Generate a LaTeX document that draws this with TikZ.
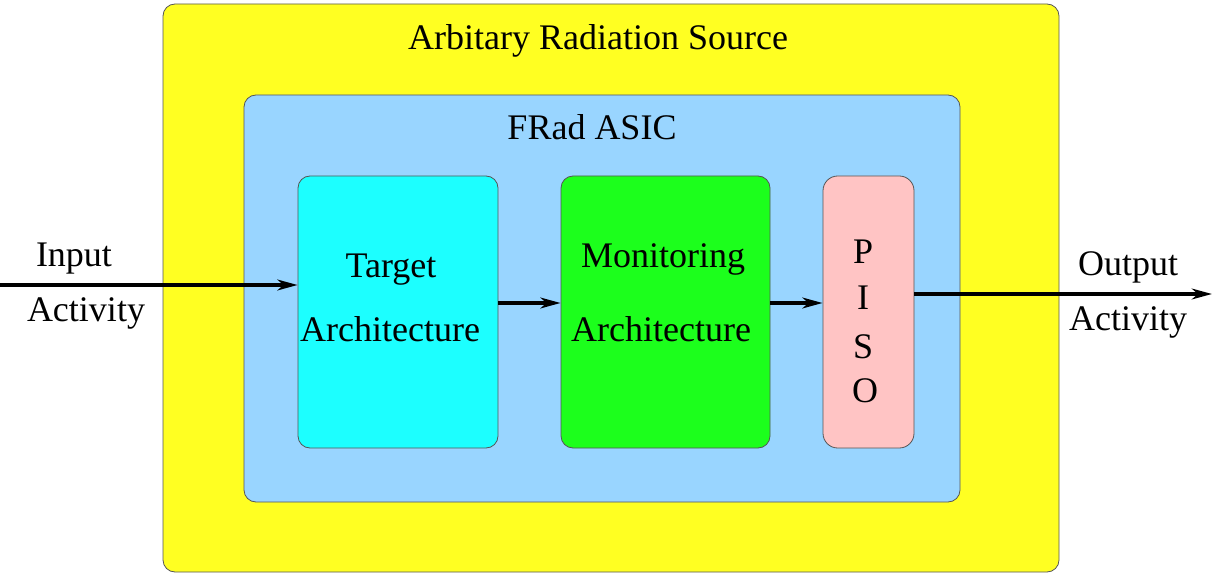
\documentclass[tikz,border=0pt]{standalone}
\usepackage{fontspec}
\setmainfont{Liberation Serif}
\usetikzlibrary{arrows.meta,positioning}
\definecolor{srcyellow}{HTML}{FFFF22}
\definecolor{asicblue}{HTML}{99D5FF}
\definecolor{targetcyan}{HTML}{1CFFFF}
\definecolor{monitorgreen}{HTML}{1CFF1C}
\definecolor{pisopink}{HTML}{FFC4C4}
\definecolor{edgegray}{HTML}{555555}

\tikzset{
  block/.style={draw=edgegray, line width=0.6pt, rounded corners=9pt, inner sep=0pt},
  lbl/.style={anchor=base, inner sep=0pt, font=\fontsize{27}{31}\selectfont},
  flow/.style={line width=3pt, -{Stealth[length=15pt, width=8pt, inset=4.5pt]}}
}

\begin{document}
\begin{tikzpicture}[x=0.75pt,y=0.75pt,yscale=-1,xscale=1]
\useasboundingbox (0,0) rectangle (1212,573);

%Blocks
\path (611,288) node [block, fill=srcyellow, minimum width=672pt, minimum height=426pt] (source) {};
\path (602,298.5) node [block, fill=asicblue, minimum width=537pt, minimum height=305.25pt] (asic) {};
\path (398,312) node [block, fill=targetcyan, minimum width=150pt, minimum height=204pt] (target) {};
\path (665.5,312) node [block, fill=monitorgreen, minimum width=156.75pt, minimum height=204pt] (monitor) {};
\path (868.5,312) node [block, fill=pisopink, minimum width=68.25pt, minimum height=204pt, rounded corners=11pt] (piso) {};

%Ends of the outer lines
\coordinate (in) at (0,285);
\coordinate (out) at (1212,294);

%Straight Lines
\draw [flow] (in) -- (target.west |- in);
\draw [flow] ([yshift=-6.75pt]target.east) -- ([yshift=-6.75pt]monitor.west);
\draw [flow] ([yshift=-6.75pt]monitor.east) -- ([yshift=-6.75pt]piso.west);
\draw [flow] (piso.east |- out) -- (out);

% Text Node
\draw (598,50) node [lbl] (srclbl) {Arbitary Radiation Source};
\draw (592,140) node [lbl] (asiclbl) {FRad ASIC};
% Text Node
\draw (391,277) node [lbl] (tgtlbl1) {Target};
\draw (390,341) node [lbl] (tgtlbl2) {Architecture};
% Text Node
\draw (663,268) node [lbl] (monlbl1) {Monitoring};
\draw (661,341) node [lbl] (monlbl2) {Architecture};
% Text Node
\draw (863,264) node [lbl] (pisop) {P};
\draw (863,310) node [lbl] (pisoi) {I};
\draw (863,358) node [lbl] (pisos) {S};
\draw (865,402) node [lbl] (pisoo) {O};
% Text Node
\draw (74,267) node [lbl] (inlbl1) {Input};
\draw (86,321) node [lbl] (inlbl2) {Activity};
\draw (1128,276) node [lbl] (outlbl1) {Output};
\draw (1128,330) node [lbl] (outlbl2) {Activity};

\end{tikzpicture}
\end{document}
